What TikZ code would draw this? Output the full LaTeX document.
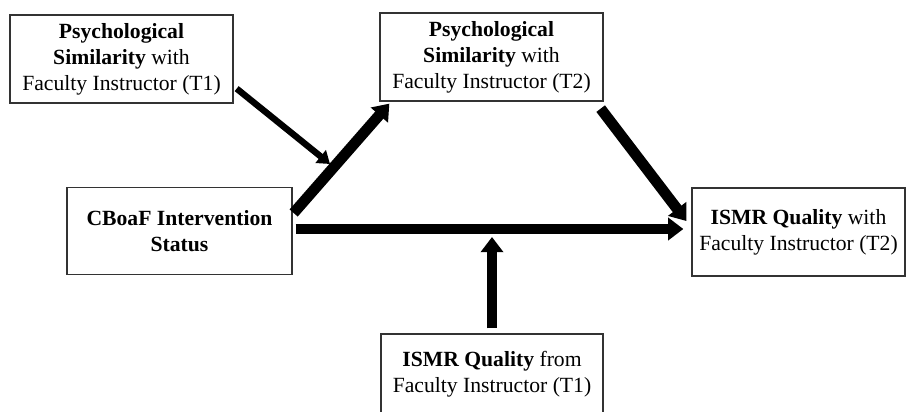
\documentclass[tikz,border=0pt]{standalone}
\usepackage{fontspec}
\setmainfont{Liberation Serif}
\usetikzlibrary{arrows.meta,positioning,calc}

\begin{document}
\begin{tikzpicture}[x=0.025cm,y=-0.025cm,
  var/.style={draw=black!80,line width=0.9pt,align=center,inner sep=2pt,
    font=\fontsize{15.4}{18.6}\selectfont,minimum width=5.575cm,minimum height=2.2cm},
  bigarrow/.style={line width=0.27cm,-{Triangle[length=0.38cm,width=0.55cm]}},
  smallarrow/.style={line width=0.16cm,-{Triangle[length=0.3cm,width=0.4cm]}}]
\useasboundingbox (0,0) rectangle (906,412);
\clip (0,0) rectangle (906,412);

% variables
\node[var] (simT1) at (121.5,59) {\textbf{Psychological}\\\textbf{Similarity} with\\Faculty Instructor (T1)};
\node[var] (simT2) at (491.5,57) {\textbf{Psychological}\\\textbf{Similarity} with\\Faculty Instructor (T2)};
\node[var,minimum width=5.625cm,minimum height=2.175cm] (cboaf) at (179.5,231) {\textbf{CBoaF Intervention}\\\textbf{Status}};
\node[var,minimum width=5.325cm] (ismrT2) at (798.5,232) {\textbf{ISMR Quality} with\\Faculty Instructor (T2)};
\node[var,minimum width=5.55cm,minimum height=2.0cm] (ismrT1) at (492,374) {\textbf{ISMR Quality} from\\Faculty Instructor (T1)};

% moderation targets
\coordinate (modA) at (330,164);
\coordinate (modB) at (492,237);

% paths
\draw[bigarrow] ($(cboaf.east)+(1,-18)$) -- ($(simT2.south west)+(10,2)$);
\draw[bigarrow] ($(simT2.south east)+(-3,7)$) -- ($(ismrT2.west)+(-5,-11)$);
\draw[bigarrow] ($(cboaf.east)+(3,-2)$) -- ($(ismrT2.west)+(-8,-3)$);
\draw[smallarrow] ($(simT1.south east)+(3,-15)$) -- (modA);
\draw[bigarrow] ($(ismrT1.north)+(0,-5)$) -- (modB);
\end{tikzpicture}
\end{document}
